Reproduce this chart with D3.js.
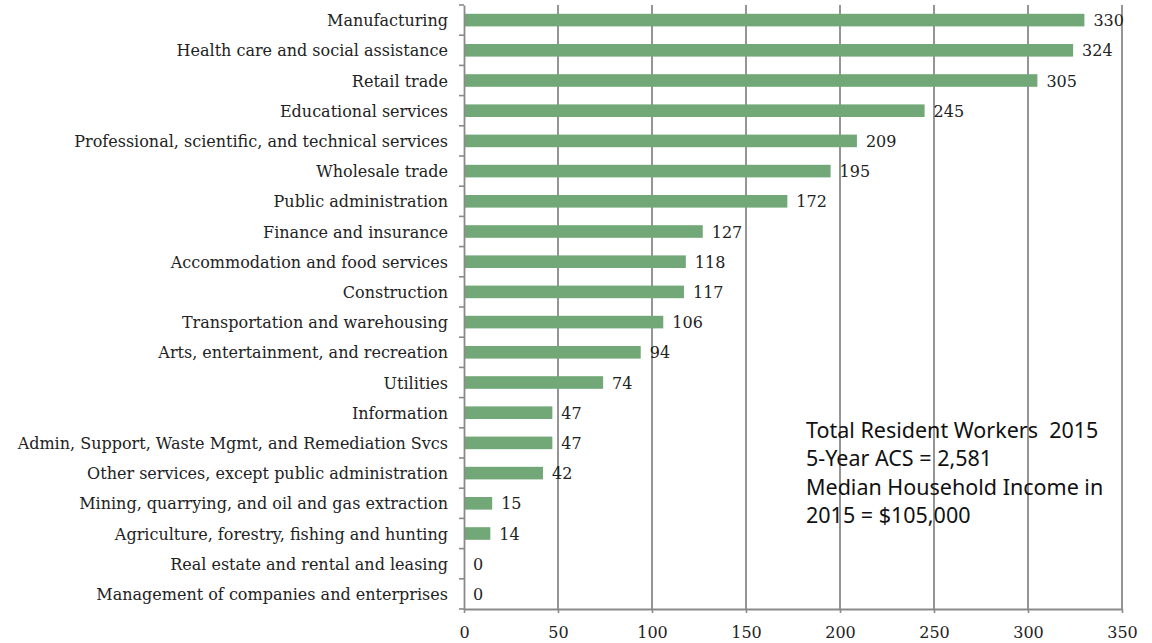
<!DOCTYPE html>
<html>
<head>
<meta charset="utf-8">
<script src="https://cdn.jsdelivr.net/npm/d3@7"></script>
<style>
  html, body { margin: 0; padding: 0; background: #fff; }
  svg { display: block; }
</style>
</head>
<body>
<svg id="chart" width="1152" height="643"></svg>
<script>
// Resident workers by industry
const industries = [
  "Manufacturing",
  "Health care and social assistance",
  "Retail trade",
  "Educational services",
  "Professional, scientific, and technical services",
  "Wholesale trade",
  "Public administration",
  "Finance and insurance",
  "Accommodation and food services",
  "Construction",
  "Transportation and warehousing",
  "Arts, entertainment, and recreation",
  "Utilities",
  "Information",
  "Admin, Support, Waste Mgmt, and Remediation Svcs",
  "Other services, except public administration",
  "Mining, quarrying, and oil and gas extraction",
  "Agriculture, forestry, fishing and hunting",
  "Real estate and rental and leasing",
  "Management of companies and enterprises"
];
const workers = [330, 324, 305, 245, 209, 195, 172, 127, 118, 117, 106, 94, 74, 47, 47, 42, 15, 14, 0, 0];
const xTicks = [0, 50, 100, 150, 200, 250, 300, 350];
const noteLines = [
  "Total Resident Workers  2015",
  "5-Year ACS = 2,581",
  "Median Household Income in",
  "2015 = $105,000"
];

const svg = d3.select("#chart");
const plotTop = 5, plotBottom = 609;
const serif = "'DejaVu Serif', 'Liberation Serif', serif";
const fs = 16;

const x = d3.scaleLinear().domain([0, 350]).range([464, 1122]);
const band = d3.scaleBand().domain(industries).range([plotTop, plotBottom]);

const grid = "#8a8a8a";

// vertical gridlines
svg.append("g").selectAll("line")
  .data(xTicks.filter(t => t > 0))
  .join("line")
  .attr("x1", d => x(d)).attr("x2", d => x(d))
  .attr("y1", plotTop).attr("y2", plotBottom)
  .attr("stroke", grid).attr("stroke-width", 1.8);

const rows = industries.map((c, i) => ({ c, v: workers[i] }));

// bars
svg.append("g").selectAll("rect")
  .data(rows)
  .join("rect")
  .attr("x", x(0))
  .attr("y", d => band(d.c) + band.bandwidth() / 2 - 6.3)
  .attr("width", d => x(d.v) - x(0))
  .attr("height", 12.6)
  .attr("fill", "#72a878");

// value labels
svg.append("g").selectAll("text")
  .data(rows)
  .join("text")
  .attr("x", d => x(d.v) + 9)
  .attr("y", d => band(d.c) + band.bandwidth() / 2)
  .attr("dy", "0.38em")
  .attr("font-family", serif)
  .attr("font-size", fs)
  .attr("fill", "#222")
  .text(d => d.v);

// y axis
const yAxis = d3.axisLeft(band).tickSize(0).tickPadding(16);
const gy = svg.append("g").attr("transform", `translate(${x(0)},0)`).call(yAxis);
gy.select(".domain").attr("stroke", grid).attr("stroke-width", 1.8);
gy.selectAll("text").attr("font-family", serif).attr("font-size", fs).attr("fill", "#222").attr("dy", "0.38em");
// band boundary ticks
svg.append("g").selectAll("line")
  .data(d3.range(industries.length + 1))
  .join("line")
  .attr("x1", x(0) - 5).attr("x2", x(0))
  .attr("y1", i => plotTop + i * band.step())
  .attr("y2", i => plotTop + i * band.step())
  .attr("stroke", grid).attr("stroke-width", 1.6);

// x axis
const xAxis = d3.axisBottom(x).tickValues(xTicks).tickSize(4).tickPadding(14).tickSizeOuter(0);
const gx = svg.append("g").attr("transform", `translate(0,${plotBottom})`).call(xAxis);
gx.select(".domain").attr("stroke", grid).attr("stroke-width", 1.8);
gx.selectAll(".tick line").attr("stroke", grid).attr("stroke-width", 1.6);
gx.selectAll("text").attr("font-family", serif).attr("font-size", fs).attr("fill", "#222");

// note text
svg.append("g").selectAll("text")
  .data(noteLines)
  .join("text")
  .attr("x", 806)
  .attr("y", (d, i) => 438 + i * 28.3)
  .attr("font-family", "'Noto Sans', sans-serif")
  .attr("font-size", 21.5)
  .attr("fill", "#111")
  .attr("xml:space", "preserve")
  .text(d => d);
</script>
</body>
</html>
